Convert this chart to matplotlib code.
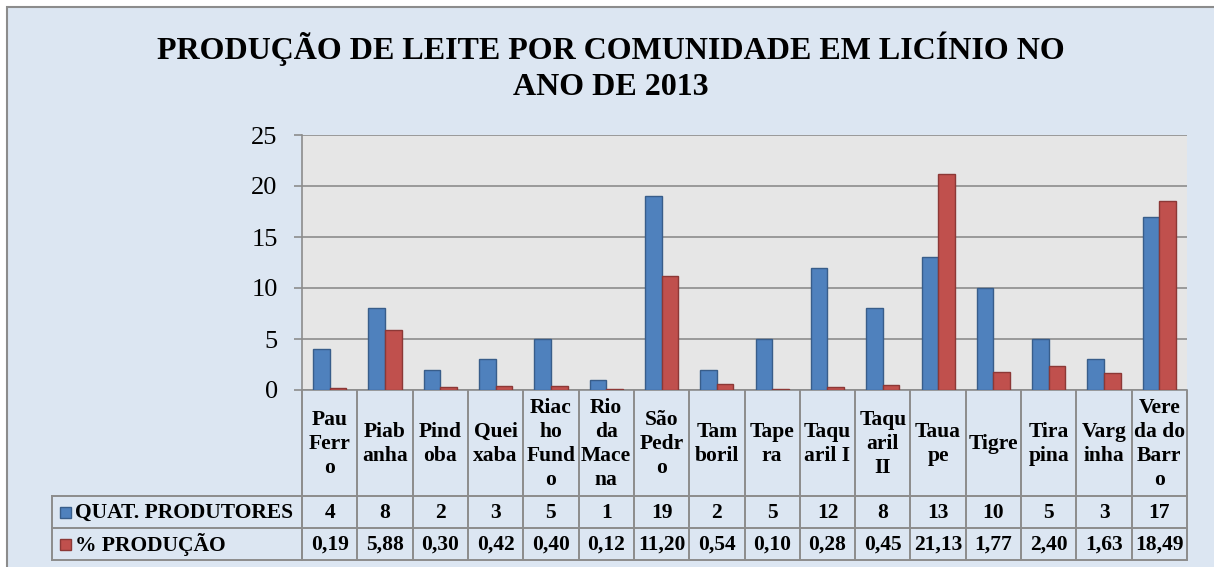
import matplotlib
matplotlib.use("Agg")
import matplotlib.pyplot as plt
from matplotlib.patches import Rectangle
from matplotlib.transforms import blended_transform_factory
import numpy as np

# ---------------- data ----------------
categories = ["Pau\nFerr\no", "Piab\nanha", "Pind\noba", "Quei\nxaba", "Riac\nho\nFund\no",
              "Rio\nda\nMace\nna", "São\nPedr\no", "Tam\nboril", "Tape\nra", "Taqu\naril I",
              "Taqu\naril\nII", "Taua\npe", "Tigre", "Tira\npina", "Varg\ninha",
              "Vere\nda do\nBarr\no"]
produtores = [4, 8, 2, 3, 5, 1, 19, 2, 5, 12, 8, 13, 10, 5, 3, 17]
producao = [0.19, 5.88, 0.30, 0.42, 0.40, 0.12, 11.20, 0.54, 0.10, 0.28, 0.45,
            21.13, 1.77, 2.40, 1.63, 18.49]
series_names = ["QUAT. PRODUTORES", "% PRODUÇÃO"]
yticks = [0, 5, 10, 15, 20, 25]
title = "PRODUÇÃO DE LEITE POR COMUNIDADE EM LICÍNIO NO\nANO DE 2013"

# ---------------- style ----------------
W, H = 1214, 567
BG = "#DCE6F2"
PLOT_BG = "#E6E6E6"
GRID = "#8C8C8C"
BLUE, BLUE_E = "#4F81BD", "#385D8A"
RED, RED_E = "#C0504D", "#8C3836"
FONT = "Liberation Serif"

fig = plt.figure(figsize=(W / 100, H / 100), dpi=100, facecolor="white")

# overlay axes in pixel coordinates (y downward)
ov = fig.add_axes([0, 0, 1, 1])
ov.set_xlim(0, W)
ov.set_ylim(H, 0)
ov.axis("off")
ov.add_patch(Rectangle((7, 7), W + 20, H + 20, facecolor=BG, edgecolor="#8C8C8C",
                       linewidth=1.5, zorder=0))

# plot area
L, R, T, B = 302, 1187, 135, 390
ax = fig.add_axes([L / W, 1 - B / H, (R - L) / W, (B - T) / H])
ax.set_facecolor(PLOT_BG)
x = np.arange(len(categories))
bw = 0.3
ax.bar(x - bw / 2, produtores, bw, color=BLUE, edgecolor=BLUE_E, linewidth=1.0, zorder=3)
ax.bar(x + bw / 2, producao, bw, color=RED, edgecolor=RED_E, linewidth=1.0, zorder=3)
ax.set_xlim(-0.5, len(categories) - 0.5)
ax.set_ylim(0, 25)
ax.set_yticks(yticks)
ax.set_yticklabels([str(v) for v in yticks], fontfamily=FONT, fontsize=19)
ax.set_xticks([])
ax.yaxis.grid(True, color=GRID, linewidth=1.2, zorder=0)
ax.set_axisbelow(True)
ax.tick_params(axis="y", length=6, width=1.2, color=GRID, pad=11.5)
for s in ["top", "right"]:
    ax.spines[s].set_visible(False)
ax.spines["left"].set_color(GRID)
ax.spines["left"].set_linewidth(1.2)
ax.spines["bottom"].set_color(GRID)
ax.spines["bottom"].set_linewidth(1.2)

# title
fig.text(0.503, 1 - 67 / H, title, ha="center", va="center", fontfamily=FONT,
         fontweight="bold", fontsize=23, linespacing=1.32)

# data table
tr = blended_transform_factory(ax.transData, ov.transData)
row_top, row1, row2, row_bot = B, 496, 528, 560
lc = "#8C8C8C"
lw = 1.4
for i in range(len(categories) + 1):
    ov.plot([i - 0.5, i - 0.5], [row_top, row_bot], color=lc, lw=lw, transform=tr,
            solid_capstyle="butt")
ov.plot([L, L], [row1, row_bot], color=lc, lw=lw)
for yy in (row1, row2, row_bot):
    ov.plot([-0.5, len(categories) - 0.5], [yy, yy], color=lc, lw=lw, transform=tr)
    ov.plot([52, L], [yy, yy], color=lc, lw=lw)
ov.plot([52, 52], [row1, row_bot], color=lc, lw=lw)

tfs = 15.5
for i, (c, p, q) in enumerate(zip(categories, produtores, producao)):
    ov.text(i, (row_top + row1) / 2 + 1, c, transform=tr, ha="center", va="center",
            fontfamily=FONT, fontweight="bold", fontsize=tfs, linespacing=1.28)
    ov.text(i, (row1 + row2) / 2 + 1, str(p), transform=tr, ha="center", va="center",
            fontfamily=FONT, fontweight="bold", fontsize=tfs)
    ov.text(i, (row2 + row_bot) / 2 + 1, f"{q:.2f}".replace(".", ","), transform=tr,
            ha="center", va="center", fontfamily=FONT, fontweight="bold", fontsize=tfs)

for name, yc, fc, ec in [(series_names[0], (row1 + row2) / 2, BLUE, BLUE_E),
                         (series_names[1], (row2 + row_bot) / 2, RED, RED_E)]:
    ov.add_patch(Rectangle((60, yc - 5), 11, 11, facecolor=fc, edgecolor=ec, lw=1))
    ov.text(75, yc + 1, name, ha="left", va="center", fontfamily=FONT,
            fontweight="bold", fontsize=tfs)

fig.savefig("out.png", dpi=100, facecolor="white")
